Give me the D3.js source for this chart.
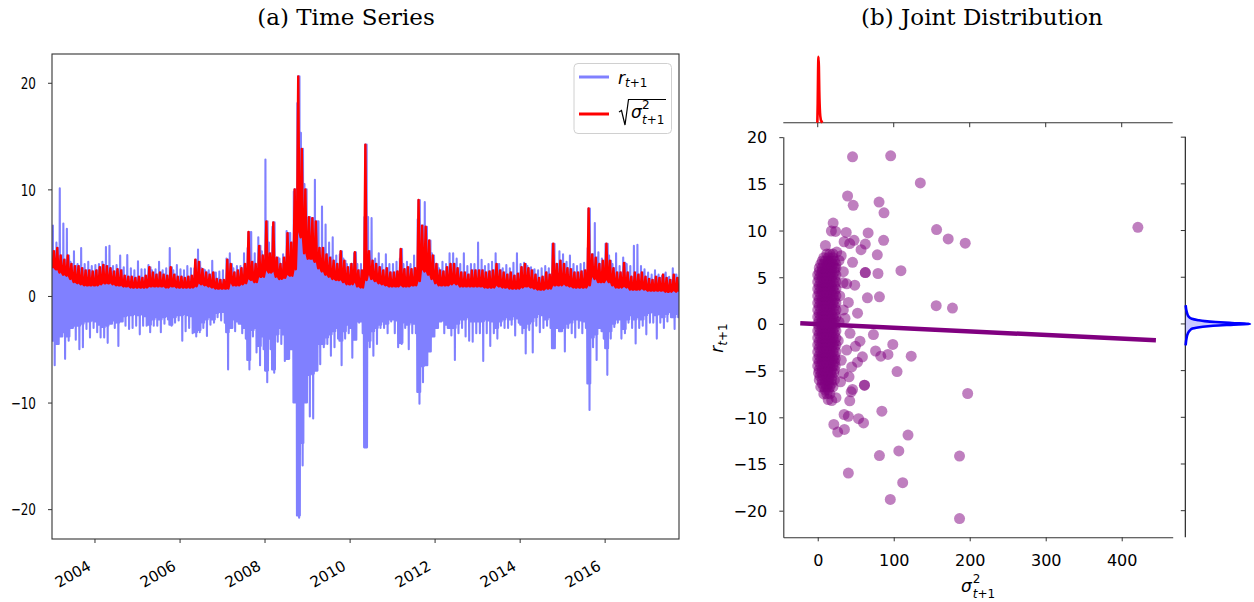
<!DOCTYPE html>
<html>
<head>
<meta charset="utf-8">
<script src="https://cdn.jsdelivr.net/npm/d3@7"></script>
<style>
  body { margin: 0; background: #fff; }
  svg text { font-family: "DejaVu Sans", sans-serif; fill: #000; }
</style>
</head>
<body>
<svg id="chart" width="1254" height="602"></svg>
<script>
// monthly summary of the daily series (Jan 2003 .. Sep 2017)
const firstYear = 2003;

// largest daily return in each month
const rHi = [
  6.6, 5.0, 10.1, 6.8, 6.3, 3.2, 4.2, 3.0, 4.5, 3.0, 3.2, 2.8,
  2.9, 3.0, 3.2, 4.6, 4.7, 2.8, 2.9, 3.8, 2.7, 3.85, 2.6, 2.4,
  3.25, 2.5, 2.5, 2.9, 2.4, 2.5, 3.2, 2.4, 2.6, 4.5, 2.4, 2.9,
  2.5, 2.4, 2.8, 2.6, 2.6, 4.35, 2.6, 2.4, 2.4, 3.3, 2.2, 2.3,
  2.4, 3.5, 4.0, 2.6, 2.8, 2.8, 4.0, 4.5, 6.0, 4.0, 5.5, 4.2,
  12.8, 5.0, 6.5, 3.5, 3.5, 3.9, 6.1, 5.9, 9.8, 18.1, 15.3, 10.5,
  6.0, 5.5, 10.9, 7.0, 8.4, 6.7, 5.0, 5.5, 3.8, 3.9, 3.5, 3.0,
  3.0, 4.0, 3.0, 3.0, 7.4, 7.4, 7.3, 3.5, 4.0, 3.0, 3.9, 3.0,
  3.0, 3.2, 3.5, 3.0, 3.2, 3.0, 3.8, 7.2, 6.5, 8.8, 4.9, 4.0,
  3.0, 2.6, 3.2, 3.0, 4.0, 4.0, 3.5, 3.0, 4.0, 2.8, 3.0, 3.0,
  5.0, 3.4, 2.8, 3.0, 3.2, 4.0, 3.0, 2.6, 2.9, 2.6, 3.1, 4.0,
  3.0, 3.1, 2.8, 2.7, 2.5, 2.4, 2.6, 2.8, 2.6, 4.9, 3.0, 4.2,
  3.9, 3.2, 3.8, 3.0, 2.8, 3.0, 3.1, 4.5, 3.5, 6.85, 4.1, 3.5,
  4.9, 3.8, 3.0, 4.0, 2.8, 3.6, 3.0, 2.8, 4.7, 4.8, 2.8, 2.5,
  2.2, 2.0, 2.4, 2.0, 1.9, 2.2, 1.8, 2.6, 2.0
];

// lowest daily return in each month
const rLo = [
  -6.5, -4.5, -3.5, -5.9, -4.2, -3.0, -4.1, -5.0, -4.8, -3.1, -3.9, -3.0,
  -3.4, -3.9, -3.9, -4.4, -2.3, -3.0, -4.7, -2.3, -2.8, -3.1, -3.0, -2.8,
  -3.6, -2.8, -2.8, -3.4, -2.8, -2.8, -3.4, -2.6, -2.2, -2.8, -2.5, -2.3,
  -4.2, -3.3, -3.0, -3.5, -3.8, -3.4, -3.0, -3.75, -2.7, -2.5, -2.0, -2.3,
  -2.5, -6.9, -3.0, -3.3, -2.6, -3.5, -4.0, -6.9, -3.8, -5.3, -6.5, -5.0,
  -8.1, -5.0, -7.2, -4.3, -4.5, -6.1, -5.0, -4.5, -9.0, -20.8, -15.9, -9.0,
  -11.3, -11.5, -6.7, -6.4, -4.8, -4.5, -5.6, -4.8, -4.0, -6.5, -4.0, -3.5,
  -5.8, -4.0, -2.5, -3.5, -7.5, -4.8, -5.6, -4.5, -3.0, -3.0, -3.5, -2.4,
  -3.5, -4.8, -4.5, -3.0, -5.0, -3.5, -3.5, -10.1, -8.1, -5.0, -3.9, -3.8,
  -2.5, -2.0, -3.5, -3.0, -3.7, -6.0, -3.5, -3.0, -3.8, -4.2, -4.3, -3.5,
  -3.5, -6.1, -3.5, -4.7, -3.5, -4.0, -2.8, -3.0, -3.0, -2.7, -3.7, -2.5,
  -3.5, -5.4, -3.2, -5.3, -2.8, -3.4, -3.0, -2.8, -3.0, -4.8, -2.5, -3.0,
  -5.2, -3.0, -3.5, -3.9, -3.0, -3.5, -3.0, -10.7, -4.8, -6.0, -3.0, -4.0,
  -7.4, -4.0, -2.9, -2.5, -4.0, -3.5, -2.5, -3.0, -4.45, -3.0, -2.8, -3.6,
  -2.5, -2.5, -4.0, -2.5, -3.0, -2.4, -2.0, -3.1, -2.0
];

// highest and lowest level of sqrt(sigma^2) in each month
const volHi = [
  4.2, 4.5, 3.8, 3.4, 3.8, 3.0, 2.8, 2.8, 2.6, 2.4, 2.4, 2.3,
  2.4, 2.7, 2.9, 2.8, 2.6, 2.3, 2.5, 2.4, 1.9, 1.8, 1.8, 1.7,
  1.8, 1.7, 1.9, 2.7, 2.2, 2.0, 2.2, 2.0, 1.9, 2.7, 2.0, 1.8,
  1.8, 1.7, 1.8, 1.9, 3.4, 3.2, 2.5, 2.2, 2.0, 2.2, 1.6, 1.5,
  1.5, 3.4, 3.0, 2.2, 2.4, 2.6, 3.0, 6.0, 3.2, 3.0, 4.7, 3.8,
  7.0, 4.0, 6.9, 3.6, 3.0, 3.6, 5.9, 5.0, 10.0, 20.6, 13.8, 10.0,
  7.4, 7.3, 7.0, 4.5, 4.5, 3.9, 3.6, 3.3, 3.0, 4.2, 3.3, 2.7,
  3.0, 4.1, 2.4, 2.4, 14.2, 4.2, 3.3, 3.0, 2.7, 2.4, 2.6, 2.2,
  2.2, 2.3, 4.4, 2.5, 2.7, 2.5, 2.6, 9.0, 6.6, 6.5, 5.2, 3.8,
  3.0, 2.4, 2.3, 2.7, 3.0, 3.0, 2.6, 2.2, 2.2, 2.0, 2.4, 2.4,
  2.4, 2.4, 2.2, 2.3, 2.4, 3.0, 2.4, 2.2, 2.0, 2.2, 1.9, 2.1,
  2.7, 3.0, 2.6, 2.4, 2.0, 1.7, 1.8, 2.2, 2.0, 4.9, 3.0, 3.3,
  3.0, 2.6, 2.5, 2.2, 2.2, 2.3, 2.4, 8.2, 3.9, 3.6, 3.0, 3.3,
  4.9, 3.3, 2.6, 2.2, 2.2, 3.1, 2.2, 1.8, 2.2, 2.0, 2.2, 1.8,
  1.6, 1.5, 1.8, 1.7, 2.0, 1.7, 1.5, 2.0, 1.7
];
const volLo = [
  2.6, 2.5, 2.2, 2.0, 1.9, 1.6, 1.3, 1.2, 1.1, 1.0, 1.0, 1.0,
  1.0, 1.1, 1.2, 1.2, 1.2, 1.1, 1.0, 1.0, 0.9, 0.9, 0.8, 0.8,
  0.8, 0.8, 0.8, 0.9, 0.9, 0.9, 0.9, 0.9, 0.8, 0.9, 0.9, 0.8,
  0.8, 0.8, 0.8, 0.8, 0.9, 1.2, 1.1, 1.0, 0.9, 0.8, 0.7, 0.7,
  0.7, 0.7, 1.2, 1.0, 1.0, 1.1, 1.2, 1.6, 1.5, 1.3, 1.8, 1.8,
  2.4, 2.2, 2.3, 1.8, 1.6, 1.7, 2.0, 1.9, 2.5, 6.0, 5.5, 4.0,
  3.5, 3.5, 3.2, 2.6, 2.3, 2.0, 1.8, 1.6, 1.5, 1.5, 1.3, 1.1,
  1.1, 1.3, 0.9, 0.8, 1.5, 2.0, 1.6, 1.4, 1.2, 1.1, 1.0, 0.9,
  0.9, 0.9, 1.0, 0.9, 0.9, 1.0, 1.0, 1.4, 2.5, 2.3, 2.0, 1.6,
  1.2, 1.0, 1.0, 1.0, 1.1, 1.2, 1.1, 0.9, 0.9, 0.9, 0.9, 0.9,
  0.9, 0.9, 0.8, 0.8, 0.8, 1.0, 0.9, 0.8, 0.8, 0.7, 0.7, 0.7,
  0.8, 0.9, 0.9, 0.8, 0.7, 0.6, 0.6, 0.7, 0.7, 1.0, 1.0, 1.0,
  1.1, 1.0, 0.9, 0.8, 0.8, 0.8, 0.8, 1.0, 1.8, 1.6, 1.3, 1.3,
  1.5, 1.3, 1.0, 0.8, 0.8, 0.9, 0.8, 0.6, 0.6, 0.6, 0.7, 0.6,
  0.5, 0.5, 0.5, 0.5, 0.5, 0.4, 0.4, 0.5, 0.4
];

const yearTicks = [2004, 2006, 2008, 2010, 2012, 2014, 2016];
const rTicksA = [-20, -10, 0, 10, 20];

// (b) scatter: [sigma^2, r] for the points that can be told apart
const jointOuter = [
  [45.8, 17.9], [96.0, 18.0], [135.0, 15.1], [39.3, 13.7], [46.7, 12.7], [80.7, 13.05],
  [87.2, 11.9], [20.3, 10.8], [18.0, 9.95], [23.5, 9.9], [37.5, 9.8], [66.3, 9.75],
  [156.4, 10.1], [171.7, 9.1], [194.1, 8.65], [421.3, 10.35], [34.7, 8.8], [47.8, 8.95],
  [42.1, 8.6], [62.6, 8.55], [86.7, 8.95], [57.0, 7.95], [10.1, 8.4], [78.4, 7.4],
  [45.8, 6.6], [62.6, 5.5], [62.6, 5.5], [79.3, 5.4], [109.5, 5.7], [48.7, 4.15],
  [65.4, 2.8], [81.2, 2.9], [155.9, 1.95], [177.3, 1.7], [52.4, 1.15], [33.3, 4.4],
  [40.3, 2.3], [30.9, 7.3], [33.7, 5.6], [38.1, 4.3], [33.7, 1.5], [35.9, 0.6],
  [42.5, -1.0], [73.3, -1.14], [98.8, -2.2], [55.6, -1.85], [49.6, -2.4], [38.1, -2.8],
  [76.1, -2.9], [83.0, -3.45], [92.4, -3.27], [123.0, -3.45], [58.8, -3.52], [52.4, -4.1],
  [44.7, -4.6], [33.7, -5.3], [104.4, -5.1], [41.2, -5.66], [61.5, -6.56], [61.5, -6.56],
  [45.8, -7.02], [44.0, -7.27], [197.3, -7.45], [42.1, -8.23], [18.4, -8.2], [13.7, -8.1],
  [84.4, -9.34], [34.7, -9.7], [40.3, -9.9], [53.7, -10.15], [60.3, -10.6], [21.2, -10.76],
  [35.1, -11.3], [26.3, -11.58], [118.8, -11.9], [106.7, -13.6], [81.2, -14.1], [186.6, -14.15],
  [40.3, -15.97], [111.8, -17.0], [95.5, -18.8], [186.6, -20.85], [28.0, 6.8], [30.0, -6.2],
  [29.0, 3.0], [31.0, -3.9], [25.0, 7.7], [24.0, -7.9], [28.0, 0.2], [27.0, -1.8]
];
// dense core of the cloud, [sigma^2, r]
const jointCore = [
  [12, 7.5], [16, 7.5], [20, 7.5],
  [8, 7.1], [14, 7.1], [20, 7.1],
  [6, 6.75], [10, 6.75], [14, 6.75], [18, 6.75], [22, 6.75],
  [4, 6.4], [8, 6.4], [12, 6.4], [16, 6.4], [20, 6.4], [24, 6.4],
  [2, 6.0], [6, 6.0], [10, 6.0], [14, 6.0], [18, 6.0], [22, 6.0], [24, 6.0],
  [2, 5.6], [6, 5.6], [10, 5.6], [14, 5.6], [18, 5.6], [22, 5.6],
  [0, 5.25], [4, 5.25], [8, 5.25], [12, 5.25], [16, 5.25], [20, 5.25], [24, 5.25],
  [2, 4.9], [6, 4.9], [10, 4.9], [14, 4.9], [18, 4.9], [22, 4.9],
  [0, 4.5], [4, 4.5], [8, 4.5], [12, 4.5], [16, 4.5], [20, 4.5], [24, 4.5],
  [2, 4.1], [6, 4.1], [10, 4.1], [14, 4.1], [18, 4.1], [22, 4.1],
  [0, 3.75], [4, 3.75], [8, 3.75], [12, 3.75], [16, 3.75], [20, 3.75], [24, 3.75],
  [2, 3.4], [6, 3.4], [10, 3.4], [14, 3.4], [18, 3.4], [22, 3.4],
  [0, 3.0], [4, 3.0], [8, 3.0], [12, 3.0], [16, 3.0], [20, 3.0], [24, 3.0],
  [2, 2.6], [6, 2.6], [10, 2.6], [14, 2.6], [18, 2.6], [22, 2.6],
  [0, 2.25], [4, 2.25], [8, 2.25], [12, 2.25], [16, 2.25], [20, 2.25], [24, 2.25],
  [2, 1.9], [6, 1.9], [10, 1.9], [14, 1.9], [18, 1.9], [22, 1.9],
  [0, 1.5], [4, 1.5], [8, 1.5], [12, 1.5], [16, 1.5], [20, 1.5], [24, 1.5],
  [2, 1.1], [6, 1.1], [10, 1.1], [14, 1.1], [18, 1.1], [22, 1.1],
  [0, 0.75], [4, 0.75], [8, 0.75], [12, 0.75], [16, 0.75], [20, 0.75], [24, 0.75],
  [2, 0.4], [6, 0.4], [10, 0.4], [14, 0.4], [18, 0.4], [22, 0.4],
  [0, 0], [4, 0], [8, 0], [12, 0], [16, 0], [20, 0], [24, 0],
  [2, -0.4], [6, -0.4], [10, -0.4], [14, -0.4], [18, -0.4], [22, -0.4],
  [0, -0.75], [4, -0.75], [8, -0.75], [12, -0.75], [16, -0.75], [20, -0.75], [24, -0.75],
  [2, -1.1], [6, -1.1], [10, -1.1], [14, -1.1], [18, -1.1], [22, -1.1],
  [0, -1.5], [4, -1.5], [8, -1.5], [12, -1.5], [16, -1.5], [20, -1.5], [24, -1.5],
  [2, -1.9], [6, -1.9], [10, -1.9], [14, -1.9], [18, -1.9], [22, -1.9],
  [0, -2.25], [4, -2.25], [8, -2.25], [12, -2.25], [16, -2.25], [20, -2.25], [24, -2.25],
  [2, -2.6], [6, -2.6], [10, -2.6], [14, -2.6], [18, -2.6], [22, -2.6],
  [0, -3.0], [4, -3.0], [8, -3.0], [12, -3.0], [16, -3.0], [20, -3.0], [24, -3.0],
  [2, -3.4], [6, -3.4], [10, -3.4], [14, -3.4], [18, -3.4], [22, -3.4],
  [0, -3.75], [4, -3.75], [8, -3.75], [12, -3.75], [16, -3.75], [20, -3.75], [23, -3.75],
  [2, -4.1], [6, -4.1], [10, -4.1], [14, -4.1], [18, -4.1], [22, -4.1],
  [0, -4.5], [4, -4.5], [8, -4.5], [12, -4.5], [16, -4.5], [20, -4.5], [23, -4.5],
  [2, -4.9], [6, -4.9], [10, -4.9], [14, -4.9], [18, -4.9], [22, -4.9],
  [1, -5.25], [5, -5.25], [9, -5.25], [13, -5.25], [17, -5.25], [21, -5.25],
  [3, -5.6], [7, -5.6], [11, -5.6], [15, -5.6], [19, -5.6],
  [2, -6.0], [6, -6.0], [10, -6.0], [14, -6.0], [18, -6.0], [22, -6.0],
  [6, -6.4], [10, -6.4], [14, -6.4], [18, -6.4],
  [4, -6.75], [8, -6.75], [12, -6.75], [16, -6.75], [20, -6.75],
  [10, -7.1], [14, -7.1],
  [8, -7.5], [12, -7.5], [16, -7.5]
];
// fitted line r = a + b * sigma^2, drawn over [-23, 445]
const regA = -0.02, regB = -0.0039, regSpan = [-23, 445];

// marginal densities (relative heights)
const sigDensX = [-0.5, 0, 0.5, 1, 1.5, 2, 3, 4, 5, 6];
const sigDens = [0, 0.3, 0.8, 1.0, 0.85, 0.5, 0.15, 0.05, 0.02, 0];
const rDensY = [-2.3, -1.5, -1.0, -0.7, -0.5, -0.4, -0.3, -0.2, -0.1, 0, 0.1, 0.2, 0.3, 0.4, 0.55, 0.8, 1.1, 1.5, 2.0];
const rDens = [0.005, 0.02, 0.04, 0.07, 0.11, 0.17, 0.27, 0.43, 0.7, 1, 0.72, 0.47, 0.3, 0.2, 0.1, 0.05, 0.03, 0.015, 0.005];

const sTicks = [0, 100, 200, 300, 400];
const rTicksB = [-20, -15, -10, -5, 0, 5, 10, 15, 20];

const svg = d3.select("#chart");
const axisColor = "#333";

// ---------- (a) time series ----------
const A = { left: 52, right: 679, top: 54, bottom: 539 };
const xT = d3.scaleUtc()
  .domain([new Date(Date.UTC(2003, 0, 1)), new Date(Date.UTC(2017, 9, 1))])
  .range([A.left, A.right]);
const yA = d3.scaleLinear().domain([-22.8, 22.7]).range([A.bottom, A.top]);

function monthX(i, f) {
  const a = xT(new Date(Date.UTC(firstYear, i, 1)));
  const b = xT(new Date(Date.UTC(firstYear, i + 1, 1)));
  return a + (b - a) * f;
}

svg.append("clipPath").attr("id", "clipA")
  .append("rect").attr("x", A.left).attr("y", A.top)
  .attr("width", A.right - A.left).attr("height", A.bottom - A.top);

// the daily wiggle inside each month: swing between the month's levels and its extremes
let bluePts = [], redPts = [];
rHi.forEach((_, i) => {
  let seq = [volLo[i], -volHi[i], rHi[i], -volLo[i], volHi[i], -volHi[i], volLo[i], rLo[i], volHi[i], -volHi[i]];
  seq.forEach((v, k) => bluePts.push([monthX(i, (k + 0.5) / seq.length), v]));
  let rseq = [volLo[i], volHi[i], volLo[i]];
  rseq.forEach((v, k) => redPts.push([monthX(i, (k + 0.5) / rseq.length), v]));
});

const lineA = d3.line().x(d => d[0]).y(d => yA(d[1]));
const gA = svg.append("g").attr("clip-path", "url(#clipA)");
gA.append("path").attr("d", lineA(bluePts))
  .attr("fill", "none").attr("stroke", "#8080ff").attr("stroke-width", 2.1)
  .attr("stroke-linejoin", "round");
gA.append("path").attr("d", lineA(redPts))
  .attr("fill", "none").attr("stroke", "#ff0000").attr("stroke-width", 2.4)
  .attr("stroke-linejoin", "round");

// axes (a)
const axA_x = svg.append("g").attr("transform", `translate(0,${A.bottom})`)
  .call(d3.axisBottom(xT)
    .tickValues(yearTicks.map(y => new Date(Date.UTC(y, 0, 1))))
    .tickFormat(d3.utcFormat("%Y")).tickSize(4).tickSizeOuter(0));
axA_x.select(".domain").remove();
axA_x.selectAll("line").attr("stroke", axisColor);
axA_x.selectAll("text")
  .attr("x", 0).attr("y", 0).attr("dy", 0)
  .attr("text-anchor", "end")
  .attr("font-size", 15)
  .attr("transform", "translate(-3,30) rotate(-30)");

const axA_y = svg.append("g").attr("transform", `translate(${A.left},0)`)
  .call(d3.axisLeft(yA).tickValues(rTicksA).tickSize(4).tickPadding(12).tickSizeOuter(0));
axA_y.select(".domain").remove();
axA_y.selectAll("line").attr("stroke", axisColor);
axA_y.selectAll("text").attr("font-size", 16).attr("dy", "0.36em")
  .each(function () {
    const w = this.getComputedTextLength();
    d3.select(this).attr("textLength", w * 0.75).attr("lengthAdjust", "spacingAndGlyphs");
  });

svg.append("rect").attr("x", A.left).attr("y", A.top)
  .attr("width", A.right - A.left).attr("height", A.bottom - A.top)
  .attr("fill", "none").attr("stroke", axisColor).attr("stroke-width", 1.1);

// legend
const leg = svg.append("g");
leg.append("rect").attr("x", 574).attr("y", 63.5).attr("width", 97.5).attr("height", 70)
  .attr("rx", 4).attr("fill", "#fff").attr("fill-opacity", 0.8)
  .attr("stroke", "#d0d0d0").attr("stroke-width", 1);
leg.append("line").attr("x1", 579).attr("x2", 609).attr("y1", 77).attr("y2", 77)
  .attr("stroke", "#8080ff").attr("stroke-width", 3);
leg.append("line").attr("x1", 579).attr("x2", 609).attr("y1", 114).attr("y2", 114)
  .attr("stroke", "#ff0000").attr("stroke-width", 3);
const t1 = leg.append("text").attr("x", 618).attr("y", 84).attr("font-size", 17);
t1.append("tspan").attr("font-style", "italic").text("r");
t1.append("tspan").attr("font-size", 12).attr("dy", 3).attr("font-style", "italic").text("t");
t1.append("tspan").attr("font-size", 12).text("+1");
leg.append("path").attr("d", "M619,112 L621.5,110.5 L625,125 L628.5,99.5 L666,99.5")
  .attr("fill", "none").attr("stroke", "#000").attr("stroke-width", 1.2);
leg.append("text").attr("x", 631).attr("y", 118).attr("font-size", 17)
  .attr("font-style", "italic").text("σ");
leg.append("text").attr("x", 642).attr("y", 109).attr("font-size", 12).text("2");
const t2 = leg.append("text").attr("x", 642).attr("y", 124).attr("font-size", 12);
t2.append("tspan").attr("font-style", "italic").text("t");
t2.append("tspan").text("+1");

// ---------- (b) joint distribution ----------
const B = { left: 783.3, right: 1172.7, top: 136.7, bottom: 537.3 };
const xS = d3.scaleLinear().domain([-45.3, 467.1]).range([B.left, B.right]);
const yB = d3.scaleLinear().domain([-22.85, 20.05]).range([B.bottom, B.top]);

const gB = svg.append("g");
gB.selectAll("circle.pt")
  .data(jointCore.concat(jointOuter))
  .join("circle")
  .attr("cx", d => xS(d[0])).attr("cy", d => yB(d[1])).attr("r", 5.5)
  .attr("fill", "#800080").attr("fill-opacity", 0.5);
gB.append("line")
  .attr("x1", xS(regSpan[0])).attr("y1", yB(regA + regB * regSpan[0]))
  .attr("x2", xS(regSpan[1])).attr("y2", yB(regA + regB * regSpan[1]))
  .attr("stroke", "#800080").attr("stroke-width", 4.5);

const axB_x = svg.append("g").attr("transform", `translate(0,${B.bottom})`)
  .call(d3.axisBottom(xS).tickValues(sTicks).tickSize(4).tickPadding(13).tickSizeOuter(0));
axB_x.selectAll("text").attr("font-size", 16);
const axB_y = svg.append("g").attr("transform", `translate(${B.left},0)`)
  .call(d3.axisLeft(yB).tickValues(rTicksB).tickSize(4).tickPadding(12).tickSizeOuter(0));
axB_y.selectAll("text").attr("font-size", 16).attr("dy", "0.36em");
[axB_x, axB_y].forEach(g => {
  g.selectAll("line").attr("stroke", axisColor);
  g.select(".domain").attr("stroke", axisColor).attr("stroke-width", 1.1);
});

// top marginal (sigma^2)
const topBase = 122.7;
const yTop = d3.scaleLinear().domain([0, 1]).range([topBase, 56.7]);
svg.append("line").attr("x1", B.left).attr("x2", B.right).attr("y1", topBase).attr("y2", topBase)
  .attr("stroke", axisColor).attr("stroke-width", 1.1);
svg.append("g").selectAll("line").data(sTicks).join("line")
  .attr("x1", d => xS(d)).attr("x2", d => xS(d)).attr("y1", topBase).attr("y2", topBase + 4.5)
  .attr("stroke", axisColor);
svg.append("path")
  .attr("d", d3.line().curve(d3.curveMonotoneX).x(d => xS(d)).y((d, i) => yTop(sigDens[i]))(sigDensX))
  .attr("fill", "none").attr("stroke", "#ff0000").attr("stroke-width", 2.6);

// right marginal (r)
const rightBase = 1185.3;
const xRight = d3.scaleLinear().domain([0, 1]).range([rightBase, 1250]);
svg.append("line").attr("x1", rightBase).attr("x2", rightBase).attr("y1", B.top).attr("y2", B.bottom)
  .attr("stroke", "#111").attr("stroke-width", 1.1);
svg.append("g").selectAll("line").data(rTicksB).join("line")
  .attr("x1", rightBase - 4.5).attr("x2", rightBase).attr("y1", d => yB(d)).attr("y2", d => yB(d))
  .attr("stroke", axisColor);
const densPts = rDensY.map((r, i) => [r, rDens[i]]);
svg.append("path")
  .attr("d", d3.area().curve(d3.curveMonotoneY).y(d => yB(d[0])).x0(rightBase).x1(d => xRight(d[1]))(densPts))
  .attr("fill", "#0000ff").attr("fill-opacity", 0.2);
svg.append("path")
  .attr("d", d3.line().curve(d3.curveMonotoneY).y(d => yB(d[0])).x(d => xRight(d[1]))(densPts))
  .attr("fill", "none").attr("stroke", "#0000ff").attr("stroke-width", 2.6);

// axis labels (b)
const yl = svg.append("text").attr("transform", "translate(723,338) rotate(-90)")
  .attr("text-anchor", "middle").attr("font-size", 17);
yl.append("tspan").attr("font-style", "italic").text("r");
yl.append("tspan").attr("font-size", 12).attr("dy", 4).attr("font-style", "italic").text("t");
yl.append("tspan").attr("font-size", 12).text("+1");

const xlG = svg.append("g");
const sig = xlG.append("text").attr("y", 592).attr("font-size", 17).attr("font-style", "italic").text("σ");
const sup = xlG.append("text").attr("y", 583).attr("font-size", 12).text("2");
const sub = xlG.append("text").attr("y", 598).attr("font-size", 12);
sub.append("tspan").attr("font-style", "italic").text("t");
sub.append("tspan").text("+1");
const wSig = sig.node().getComputedTextLength(), wSub = sub.node().getComputedTextLength();
const x0 = 978 - (wSig + 1 + wSub) / 2;
sig.attr("x", x0);
sup.attr("x", x0 + wSig + 1);
sub.attr("x", x0 + wSig + 1);

// titles
svg.append("text").attr("x", 346).attr("y", 25).attr("text-anchor", "middle")
  .style("font-family", "'DejaVu Serif', serif")
  .attr("font-size", 23).text("(a) Time Series");
svg.append("text").attr("x", 982).attr("y", 25).attr("text-anchor", "middle")
  .style("font-family", "'DejaVu Serif', serif")
  .attr("font-size", 23).text("(b) Joint Distribution");
</script>
</body>
</html>
